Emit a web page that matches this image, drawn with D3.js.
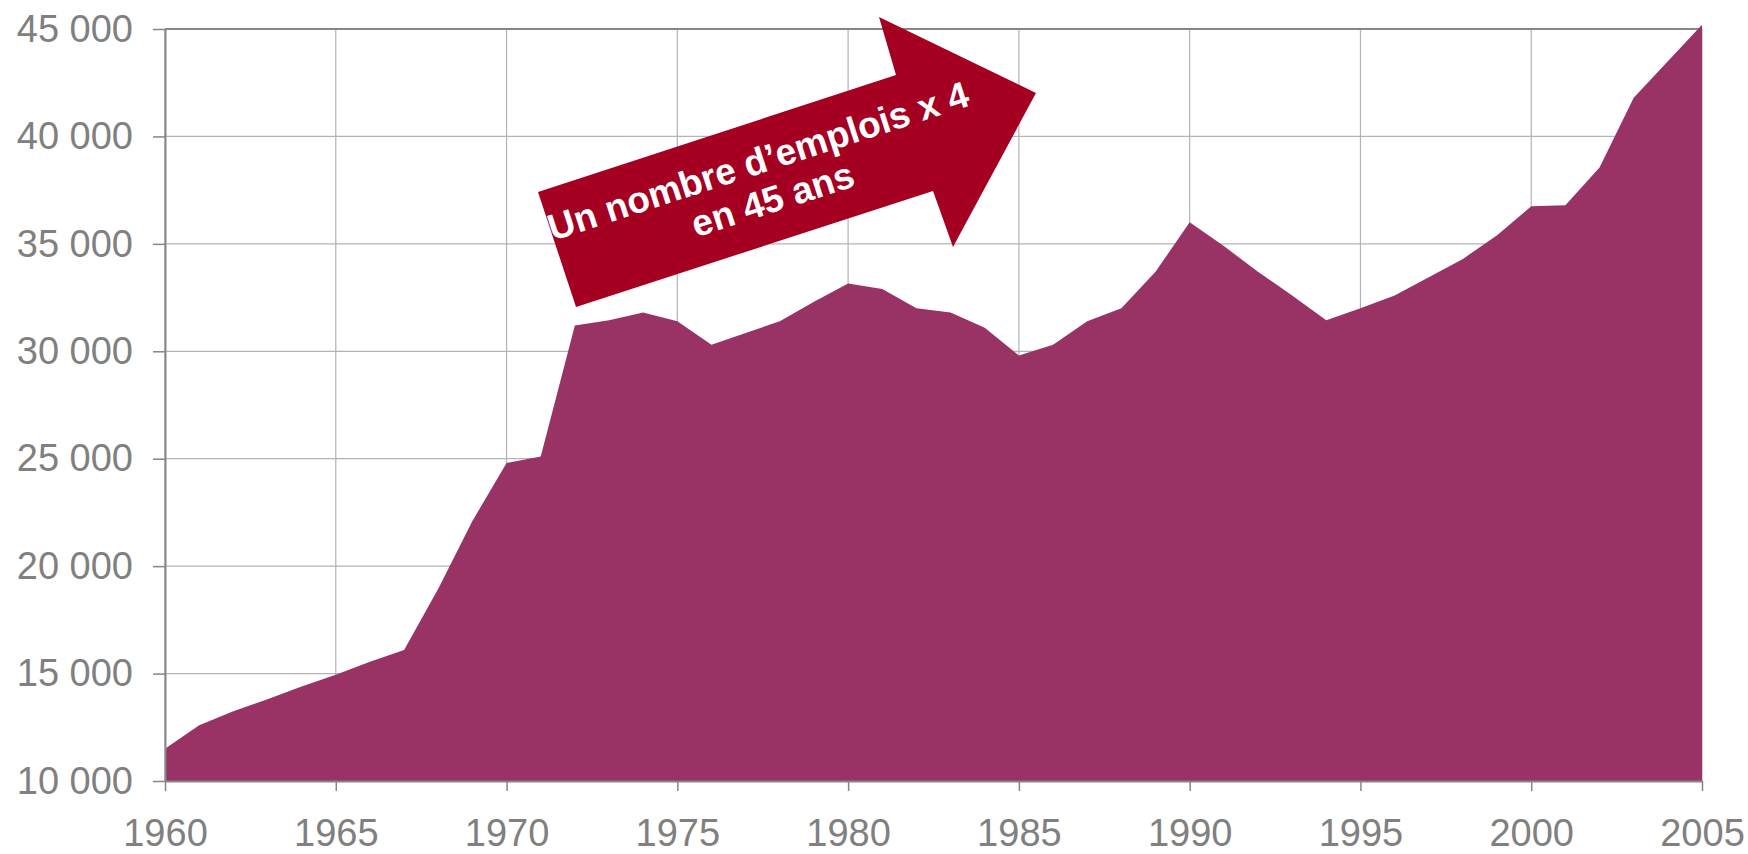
<!DOCTYPE html>
<html lang="fr">
<head>
<meta charset="utf-8">
<title>Nombre d'emplois 1960-2005</title>
<script src="https://cdn.jsdelivr.net/npm/d3@7"></script>
<style>
    html, body {
        margin: 0;
        padding: 0;
        background: #ffffff;
    }
    svg {
        display: block;
        font-family: "Liberation Sans", Arial, sans-serif;
    }
</style>
</head>
<body>
<div id="area-chart"></div>
<script>
'use strict';

// data, one value per year
const years = d3.range(1960, 2006);

const jobs = [
    11500, 12600, 13250, 13800, 14400, 14950, 15550, 16100, 18950, 22100,
    24800, 25100, 31200, 31450, 31800, 31400, 30300, 30850, 31400, 32300,
    33150, 32900, 32000, 31800, 31100, 29800, 30300, 31400, 32000, 33700,
    36000, 34900, 33700, 32600, 31450, 32000, 32600, 33450, 34300, 35400,
    36750, 36800, 38550, 41800, 43500, 45200
];

const yTicks = [10000, 15000, 20000, 25000, 30000, 35000, 40000, 45000];
const xTicks = [1960, 1965, 1970, 1975, 1980, 1985, 1990, 1995, 2000, 2005];

const arrowLines = ['Un nombre d\u2019emplois x 4', 'en 45 ans'];

const settings = {
    size: { width: 1748, height: 854 },
    margin: { top: 29, right: 46, bottom: 73, left: 165 },
    colours: {
        area: '#993366',
        arrow: '#a50021',
        grid: '#b3b3b3',
        axis: '#868686',
        text: '#808080'
    }
};

function drawAreaChart(settings) {

    const width = settings.size.width;
    const height = settings.size.height;
    const margin = settings.margin;
    const colours = settings.colours;

    const chartWidth = width - margin.left - margin.right;
    const chartHeight = height - margin.top - margin.bottom;

    const svg = d3.select('#area-chart')
        .append('svg')
        .attr('width', width)
        .attr('height', height);

    const chart = svg.append('g')
        .attr('transform', `translate(${margin.left},${margin.top})`);

    const data = years.map(function (year, i) {
        return { year: year, value: jobs[i] };
    });

    // scales
    const xScale = d3.scaleLinear()
        .domain([1960, 2005])
        .range([0, chartWidth]);

    const yScale = d3.scaleLinear()
        .domain([10000, 45000])
        .range([chartHeight, 0]);

    const frLocale = d3.formatLocale({
        decimal: ',',
        thousands: ' ',
        grouping: [3],
        currency: ['', ' €']
    });

    // grid lines
    chart.append('g')
        .selectAll('line.h-grid')
        .data(yTicks)
        .join('line')
        .attr('class', 'h-grid')
        .attr('x1', 0)
        .attr('x2', chartWidth)
        .attr('y1', function (d) { return yScale(d); })
        .attr('y2', function (d) { return yScale(d); })
        .attr('stroke', colours.grid)
        .attr('stroke-width', 1.2);

    chart.append('g')
        .selectAll('line.v-grid')
        .data(xTicks)
        .join('line')
        .attr('class', 'v-grid')
        .attr('x1', function (d) { return xScale(d); })
        .attr('x2', function (d) { return xScale(d); })
        .attr('y1', 0)
        .attr('y2', chartHeight)
        .attr('stroke', colours.grid)
        .attr('stroke-width', 1.2);

    // top frame line
    chart.append('line')
        .attr('x1', 0)
        .attr('x2', chartWidth)
        .attr('y1', 0)
        .attr('y2', 0)
        .attr('stroke', colours.axis)
        .attr('stroke-width', 2);

    // area
    const areaGen = d3.area()
        .x(function (d) { return xScale(d.year); })
        .y0(yScale(10000))
        .y1(function (d) { return yScale(d.value); });

    chart.append('path')
        .datum(data)
        .attr('fill', colours.area)
        .attr('d', areaGen);

    // axes
    const xAxis = d3.axisBottom(xScale)
        .tickValues(xTicks)
        .tickFormat(d3.format('d'))
        .tickSizeInner(10)
        .tickSizeOuter(0)
        .tickPadding(28);

    const yAxis = d3.axisLeft(yScale)
        .tickValues(yTicks)
        .tickFormat(frLocale.format(',d'))
        .tickSizeInner(12)
        .tickSizeOuter(0)
        .tickPadding(20);

    const xAxisG = chart.append('g')
        .attr('transform', `translate(0,${chartHeight})`)
        .call(xAxis);

    const yAxisG = chart.append('g')
        .call(yAxis);

    [xAxisG, yAxisG].forEach(function (g) {
        g.select('.domain')
            .attr('stroke', colours.axis)
            .attr('stroke-width', 2);
        g.selectAll('.tick line')
            .attr('stroke', colours.axis)
            .attr('stroke-width', 1.5);
        g.selectAll('.tick text')
            .attr('fill', colours.text)
            .attr('font-size', 38)
            .attr('font-family', '"Liberation Sans", Arial, sans-serif');
    });

    // annotation arrow, tilted up to the right
    const arrowPoints = [
        [538, 192], [896, 75], [879, 17], [1036, 93],
        [953, 247], [933, 191], [576, 307]
    ];

    svg.append('polygon')
        .attr('points', arrowPoints.map(function (p) {
            return p.join(',');
        }).join(' '))
        .attr('fill', colours.arrow);

    const label = svg.append('g')
        .attr('transform', 'translate(762,173) rotate(-18)');

    label.selectAll('text')
        .data(arrowLines)
        .join('text')
        .attr('x', function (d, i) { return i * 2; })
        .attr('y', function (d, i) { return i * 41; })
        .attr('text-anchor', 'middle')
        .attr('font-size', 37)
        .attr('font-weight', 700)
        .attr('fill', '#ffffff')
        .text(function (d) { return d; });
}

drawAreaChart(settings);
</script>
</body>
</html>
